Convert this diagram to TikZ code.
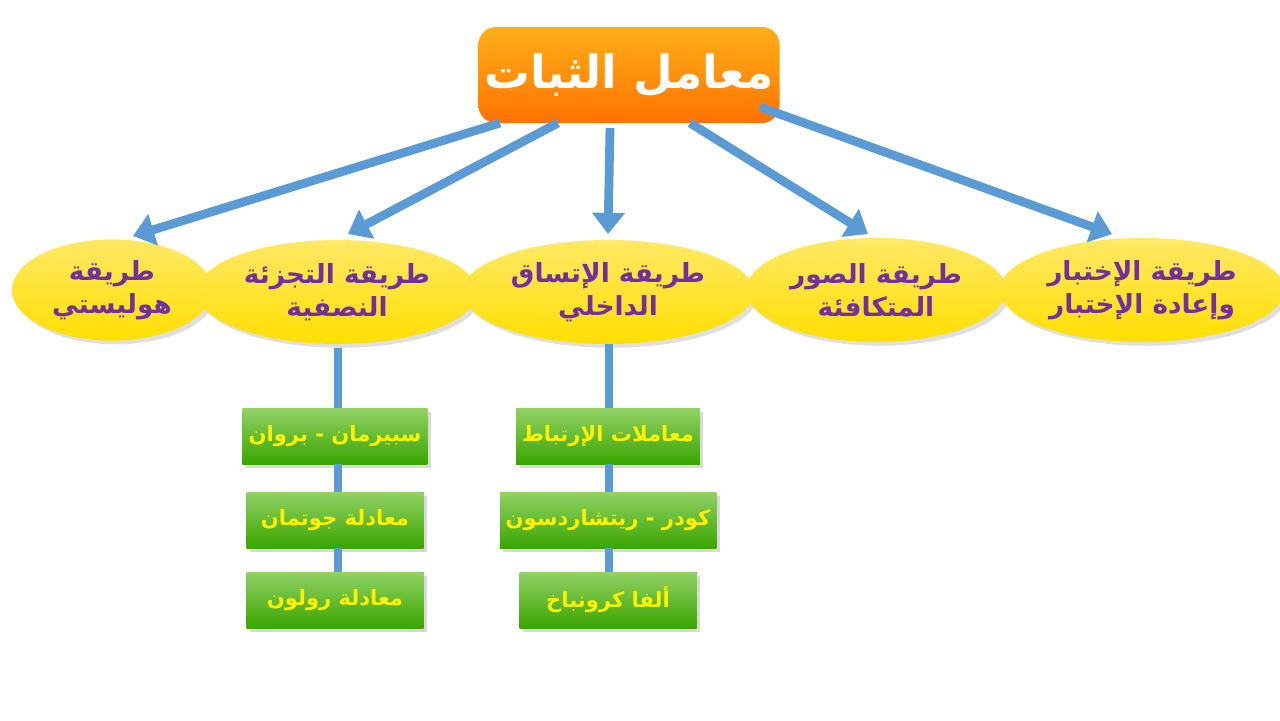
\documentclass[tikz,border=0pt]{standalone}
\usepackage{fontspec}
\newfontfamily\arabicfont[Script=Arabic]{DejaVu Sans}
\TeXXeTstate=1
\usetikzlibrary{shapes.geometric,shadows,arrows.meta}
\definecolor{ablue}{HTML}{5B9BD5}
\definecolor{apurple}{HTML}{7030A0}
\tikzset{
  topbox/.style={draw=none,rounded corners=10pt,top color=orange!70!yellow!90!white,bottom color=orange!90!red,minimum width=262*0.02cm,minimum height=96*0.02cm,font=\arabicfont\bfseries\fontsize{26}{30}\selectfont,text=white},
  ell/.style={ellipse,draw=none,top color=yellow!70!orange!60,bottom color=yellow!75!orange,drop shadow={opacity=0.25},text=apurple,align=center,font=\arabicfont\bfseries\fontsize{15}{19}\selectfont},
  gbox/.style={draw=none,top color=green!45!lime!70!black!60,bottom color=green!50!black!70!lime,fill=green!50!black,drop shadow={opacity=0.3,shadow xshift=2pt,shadow yshift=-2pt},minimum width=177*0.02cm,minimum height=56*0.02cm,text=yellow,font=\arabicfont\bfseries\fontsize{12}{14}\selectfont},
  arr/.style={ablue,line width=5pt,-{Triangle[length=12pt,width=18pt]}},
  ln/.style={ablue,line width=5pt}
}
\newcommand{\AR}[1]{\beginR #1\endR}
\begin{document}
\begin{tikzpicture}[x=0.02cm,y=-0.02cm]
\useasboundingbox (0,0) rectangle (1280,720);
\node[topbox] (top) at (629,75) {\AR{معامل الثبات}};
\node[ell,minimum width=200*0.02cm,minimum height=100*0.02cm] (e1) at (112,290) {\AR{طريقة}\\\AR{هوليستي}};
\node[ell,minimum width=230*0.02cm,minimum height=104*0.02cm] (e2) at (337,292) {\AR{طريقة التجزئة}\\\AR{النصفية}};
\node[ell,minimum width=253*0.02cm,minimum height=104*0.02cm] (e3) at (608,292) {\AR{طريقة الإتساق}\\\AR{الداخلي}};
\node[ell,minimum width=232*0.02cm,minimum height=104*0.02cm] (e4) at (876,290) {\AR{طريقة الصور}\\\AR{المتكافئة}};
\node[ell,minimum width=251*0.02cm,minimum height=104*0.02cm] (e5) at (1142,290) {\AR{طريقة الإختبار}\\\AR{وإعادة الإختبار}};
\coordinate (s1) at (500,123); \coordinate (t1) at (133,236);
\coordinate (s2) at (558,123); \coordinate (t2) at (348,234);
\coordinate (s3) at (610,128); \coordinate (t3) at (608,234);
\coordinate (s4) at (690,123); \coordinate (t4) at (868,234);
\coordinate (s5) at (760,107); \coordinate (t5) at (1112,234);
\foreach \i in {1,...,5} \draw[arr] (s\i) -- (t\i);
\node[gbox] (g1) at (335,436) {\AR{سبيرمان - بروان}};
\node[gbox] (g2) at (335,520) {\AR{معادلة جوتمان}};
\node[gbox] (g3) at (335,600) {\AR{معادلة رولون}};
\node[gbox] (h1) at (608,436) {\AR{معاملات الإرتباط}};
\node[gbox] (h2) at (608,520) {\AR{كودر - ريتشاردسون}};
\node[gbox] (h3) at (608,600) {\AR{ألفا كرونباخ}};
\begin{scope}[on background layer/.style={}]
\end{scope}
\draw[ln] (338,348) -- (338,408);
\draw[ln] (338,464) -- (338,492);
\draw[ln] (338,548) -- (338,572);
\draw[ln] (609,344) -- (609,408);
\draw[ln] (609,464) -- (609,492);
\draw[ln] (609,548) -- (609,572);
\end{tikzpicture}
\end{document}
